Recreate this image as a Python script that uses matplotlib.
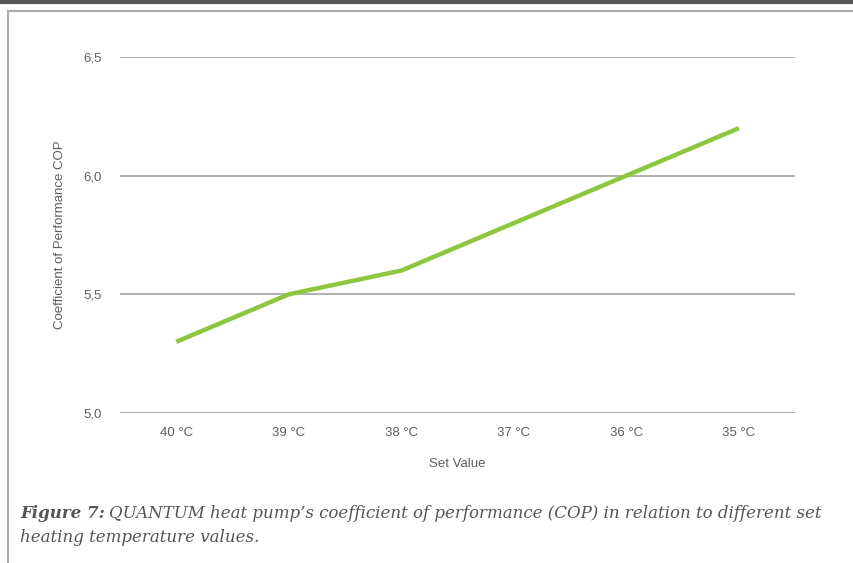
import matplotlib
matplotlib.use('Agg')
import matplotlib.pyplot as plt
from matplotlib.lines import Line2D

plt.rcParams['font.family'] = ['Liberation Sans', 'DejaVu Sans']

# data
set_values = ['40 °C', '39 °C', '38 °C', '37 °C', '36 °C', '35 °C']
cop = [5.3, 5.5, 5.6, 5.8, 6.0, 6.2]
y_ticks = [5.0, 5.5, 6.0, 6.5]
y_tick_labels = ['5,0', '5,5', '6,0', '6,5']

W, H = 854, 563
fig = plt.figure(figsize=(W / 100, H / 100), dpi=100)

# plot area (pixel coords -> figure fractions)
left, right, top, bottom = 120, 795, 57, 413
ax = fig.add_axes([left / W, 1 - bottom / H, (right - left) / W, (bottom - top) / H])

x = range(len(set_values))
ax.plot(x, cop, color='#8dc63f', lw=3.2, solid_capstyle='butt', zorder=3)

ax.set_xlim(-0.5, len(set_values) - 0.5)
ax.set_ylim(5.0, 6.5)
ax.set_yticks(y_ticks)
ax.set_yticklabels(y_tick_labels)
ax.set_xticks(list(x))
ax.set_xticklabels(set_values)
ax.grid(axis='y', color='#aaaaaa', lw=1.3)
ax.set_axisbelow(True)
for s in ax.spines.values():
    s.set_visible(False)
txt_col = '#5e5e5e'
ax.tick_params(length=0, labelsize=9.5, colors=txt_col)
ax.tick_params(axis='y', pad=13)
ax.tick_params(axis='x', pad=10)

ax.set_xlabel('Set Value', fontsize=9.5, color=txt_col, labelpad=14)
ax.set_ylabel('Coefficient of Performance COP', fontsize=9.5, color=txt_col, labelpad=13)

# frame and top bar
fig.add_artist(Line2D([0, 1], [1 - 1.5 / H, 1 - 1.5 / H], color='#58585a', lw=3))
fig.add_artist(Line2D([8 / W, 1], [1 - 10.5 / H, 1 - 10.5 / H], color='#aaaaaa', lw=1.5))
fig.add_artist(Line2D([8 / W, 8 / W], [1 - 10.5 / H, 0], color='#aaaaaa', lw=1.5))

# caption
cap_font = 'DejaVu Serif'
cap_size = 12.0
t = fig.text(20 / W, 1 - 513 / H, 'Figure 7:', fontsize=cap_size, style='italic', weight='bold',
             color='#555555', family=cap_font, va='center')
fig.canvas.draw()
bb = t.get_window_extent()
fig.text(bb.x1 / W + 4 / W, 1 - 513 / H,
         'QUANTUM heat pump’s coefficient of performance (COP) in relation to different set',
         fontsize=cap_size, style='italic', color='#555555', family=cap_font, va='center')
fig.text(20 / W, 1 - 538 / H, 'heating temperature values.', fontsize=cap_size, style='italic',
         color='#555555', family=cap_font, va='center')

fig.savefig('out.png', dpi=100)
